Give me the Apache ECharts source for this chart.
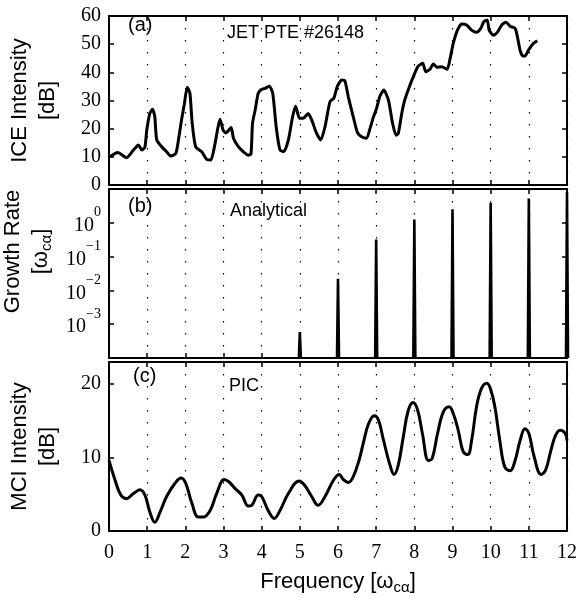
<!DOCTYPE html>
<html><head><meta charset="utf-8">
<script src="https://cdn.jsdelivr.net/npm/echarts@6/dist/echarts.min.js"></script>
<style>html,body{margin:0;padding:0;background:#fff}#c{width:580px;height:598px}</style>
</head><body><div id="c"></div>
<script>
// Panel (a): measured ICE intensity (JET PTE #26148)
const iceFreq = [0.02,0.23,0.46,0.64,0.77,0.86,0.94,0.99,1.07,1.14,1.2,1.25,1.38,1.51,1.62,1.75,1.82,1.9,1.97,2.05,2.12,2.18,2.27,2.43,2.56,2.67,2.78,2.85,2.91,2.99,3.06,3.2,3.26,3.39,3.52,3.65,3.72,3.76,3.83,3.91,4.0,4.09,4.2,4.29,4.38,4.48,4.58,4.7,4.81,4.89,4.99,5.09,5.22,5.31,5.44,5.55,5.66,5.79,5.89,5.98,6.1,6.18,6.27,6.4,6.51,6.62,6.75,6.84,6.93,7.01,7.1,7.2,7.32,7.43,7.52,7.58,7.67,7.75,7.87,7.99,8.1,8.22,8.3,8.41,8.5,8.59,8.72,8.86,8.93,9.02,9.13,9.24,9.37,9.5,9.63,9.74,9.82,9.91,9.96,10.07,10.17,10.29,10.4,10.51,10.64,10.7,10.77,10.84,10.9,10.99,11.1,11.22];
const iceDb = [10.0,11.5,9.7,12.4,14.2,12.4,13.4,19.5,25.4,26.9,24.2,16,13.6,11.8,10.3,11.2,16,23.1,28.4,34.7,32.6,21.9,13.6,11.8,9.1,8.9,14.8,20.1,23.3,19.5,18.5,20.4,16.6,13.6,11.8,10.6,11,21.9,26.6,32.6,34,34.3,35.1,32.6,20.7,12.4,11.8,16,24.2,28,23.7,23.7,25.4,23.1,18.3,16,20.7,29.6,30.8,34.9,37.3,37,31.3,24.2,18.6,17.1,16.6,20.1,24.2,27.2,31.6,33.7,30.2,21.9,17.7,18.3,25.4,30.2,34.9,39,42.2,43.2,40.2,41.1,43,41.8,42,41.1,44.4,50.3,55,57.2,56.8,55,54.2,55.6,58,58.6,55,53.2,54.1,56.8,57.8,56.4,55.6,52.7,47.9,45.8,45.8,47.9,50,51.2];

// Panel (b): analytical growth rate at harmonics
const growthFreq = [5,6,7,8,9,10,11,12];
const growthRate = [5.9e-4,0.022,0.32,1.26,2.5,3.9,5.2,8];

// Panel (c): PIC MCI intensity
const picFreq = [0,0.16,0.31,0.46,0.64,0.81,0.94,1.07,1.2,1.34,1.51,1.73,1.89,2.01,2.17,2.34,2.47,2.65,2.82,3.02,3.14,3.3,3.48,3.65,3.74,3.91,4.0,4.17,4.33,4.48,4.7,4.98,5.13,5.31,5.48,5.66,5.88,6.03,6.14,6.27,6.4,6.55,6.66,6.8,6.95,7.06,7.19,7.36,7.47,7.58,7.71,7.84,7.97,8.09,8.21,8.37,8.47,8.61,8.76,8.91,9.02,9.15,9.28,9.4,9.5,9.63,9.76,9.9,10.01,10.11,10.24,10.37,10.51,10.64,10.77,10.9,11.0,11.14,11.32,11.44,11.58,11.7,11.82,11.95,12.0];
const picDb = [9.6,6.9,4.9,4.4,5.1,5.6,4.9,2.6,1.2,2.6,4.7,6.5,7.2,6.5,3.8,1.9,1.9,2.8,5.1,7.0,6.7,5.8,4.9,3.4,3.5,4.9,4.7,2.8,1.7,2.8,5.1,6.8,6.2,4.7,3.5,4.7,6.9,7.7,7.0,6.6,7.4,9.6,11.9,14.6,15.7,15.1,12.4,9.0,7.7,9.0,12.8,16.4,17.5,16.4,13.3,9.6,9.9,13.3,16.2,16.9,16.0,13.7,10.8,10.4,12.3,16.9,19.4,20.1,19.1,16.9,12.3,8.7,8.2,9.6,12.3,13.9,13.3,10.1,7.7,8.3,11.0,13.0,13.7,13.3,12.3];

const panelTexts = [['(a)','JET PTE #26148'],['(b)','Analytical'],['(c)','PIC']];

const SERIF = '"Liberation Serif","Times New Roman",serif';
const SANS = '"Liberation Sans",Arial,sans-serif';

const zip = (a,b) => a.map((v,i)=>[v,b[i]]);

const grids = [
  {left:109, right:13, top:16, height:169},
  {left:109, right:13, top:189, height:169},
  {left:109, right:13, top:362, height:169}
].map(g => Object.assign({outerBoundsMode:'none', containLabel:false}, g));

function xAx(gi, pos, showLabels) {
  return {
    type:'value', gridIndex:gi, position:pos, min:0, max:12, interval:1,
    axisLine:{show:true, onZero:false, lineStyle:{color:'#000', width:2}},
    axisTick:{show:true, inside:true, length:5, lineStyle:{color:'#000', width:1.5}},
    axisLabel:{show:showLabels, margin:12, color:'#000', fontFamily:SERIF, fontSize:20},
    splitLine:{show: pos==='bottom', lineStyle:{color:'#000', width:1.2, type:[1.5,10.5]}},
    name: (gi===2 && pos==='bottom') ? 'Frequency [ω{sub|cα}]' : '',
    nameLocation:'middle', nameGap:37,
    nameTextStyle:{color:'#000', fontFamily:SANS, fontSize:22,
      rich:{sub:{fontFamily:SANS, fontSize:15, padding:[12,0,0,0]}}}
  };
}
const xAxes = [];
for (let g=0; g<3; g++) { xAxes.push(xAx(g,'bottom', g===2)); xAxes.push(xAx(g,'top', false)); }

const baseY = (gi, pos) => ({
  gridIndex:gi, position:pos,
  axisLine:{show:true, onZero:false, lineStyle:{color:'#000', width:2}},
  axisTick:{show:true, inside:true, length:5, lineStyle:{color:'#000', width:1.5}},
  axisLabel:{show: pos==='left', margin:8, color:'#000', fontFamily:SERIF, fontSize:20},
  splitLine:{show:false}
});
const nameStyle = {color:'#000', fontFamily:SANS, fontSize:22, lineHeight:28};
const yAxes = [];
['left','right'].forEach(p => yAxes.push(Object.assign(baseY(0,p), {
  type:'value', min:0, max:60, interval:10,
  name: p==='left' ? 'ICE Intensity\n[dB]' : '', nameLocation:'middle', nameGap:47, nameTextStyle:nameStyle
})));
['left','right'].forEach(p => { const a = baseY(1,p); a.type='log'; a.logBase=10; a.min=1e-4; a.max=10;
  a.axisLabel.formatter = v => { const e = Math.round(Math.log10(v)); if (e < -3 || e > 0) return ''; return '{m|10}{s|' + (e<0 ? '\u2212' + (-e) : e) + '}'; };
  a.axisLabel.rich = { m:{fontFamily:SERIF, fontSize:20, verticalAlign:'middle', padding:[6,0,0,0]}, s:{fontFamily:SERIF, fontSize:14, lineHeight:34, verticalAlign:'top'} };
  a.name = p==='left' ? 'Growth Rate\n[ω{sub|cα}]' : '';
  a.nameLocation='middle'; a.nameGap=47;
  a.nameTextStyle = Object.assign({}, nameStyle, {padding:[0,0,0,44], rich:{sub:{fontFamily:SANS, fontSize:15, padding:[12,0,0,0]}}});
  yAxes.push(a); });
['left','right'].forEach(p => { const a = baseY(2,p); a.type='value'; a.min=0; a.max=23; a.interval=10;
  a.axisLabel.showMaxLabel = false;
  a.name = p==='left' ? 'MCI Intensity\n[dB]' : ''; a.nameLocation='middle'; a.nameGap=47; a.nameTextStyle=nameStyle;
  yAxes.push(a); });

const textPos = [[[128,26],[227,34]],[[128,207],[230,212]],[[133,377],[229,387]]];
const graphics = [];
panelTexts.forEach((t,i) => {
  graphics.push({type:'text', left:textPos[i][0][0], top:textPos[i][0][1]-11, style:{text:t[0], font:'20px '+SANS, fill:'#000'}});
  graphics.push({type:'text', left:textPos[i][1][0], top:textPos[i][1][1]-10, style:{text:t[1], font:'18px '+SANS, fill:'#000'}});
});

const chart = echarts.init(document.getElementById('c'), null, {renderer:'canvas'});
chart.setOption({
  animation:false, backgroundColor:'#fff',
  grid: grids, xAxis: xAxes, yAxis: yAxes, graphic: graphics,
  series: [
    {type:'line', xAxisIndex:0, yAxisIndex:0, data: zip(iceFreq, iceDb), showSymbol:false, smooth:0.2,
      lineStyle:{color:'#000', width:3}, clip:true},
    {type:'custom', xAxisIndex:2, yAxisIndex:2, data: zip(growthFreq, growthRate), clip:false,
      renderItem:(params, api) => {
        const x = api.value(0), v = api.value(1);
        const top = api.coord([x, v]); const bot = api.coord([x, 1e-4]);
        return {type:'polygon', shape:{points:[[top[0]-1.3,top[1]],[top[0]+1.3,top[1]],[bot[0]+2.3,bot[1]],[bot[0]-2.3,bot[1]]]}, style:{fill:'#000'}};
      }},
    {type:'line', xAxisIndex:4, yAxisIndex:4, data: zip(picFreq, picDb), showSymbol:false, smooth:0.4,
      lineStyle:{color:'#000', width:3}, clip:true}
  ]
});
</script></body></html>
